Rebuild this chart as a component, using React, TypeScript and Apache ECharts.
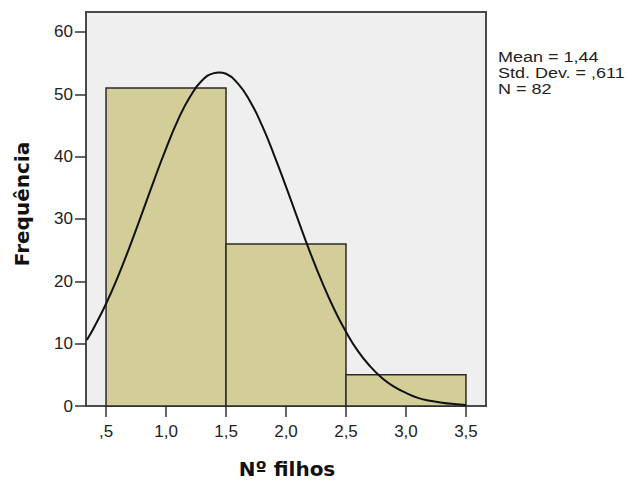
import React, { useEffect, useRef } from "react";
import * as echarts from "echarts";

const binStarts = [0.5, 1.5, 2.5];
const binEnds = [1.5, 2.5, 3.5];
const binCounts = [51, 26, 5];

const curveX = [0.34, 0.4, 0.5, 0.6, 0.7, 0.8, 0.9, 1.0, 1.1, 1.2, 1.3, 1.4, 1.44, 1.5, 1.6, 1.7, 1.8, 1.9, 2.0, 2.1, 2.2, 2.3, 2.4, 2.5, 2.6, 2.7, 2.8, 2.9, 3.0, 3.1, 3.2, 3.3, 3.4, 3.5];
const curveY = [10.6, 12.6, 16.4, 20.8, 25.7, 30.9, 36.2, 41.3, 45.9, 49.6, 52.2, 53.4, 53.5, 53.3, 51.7, 48.9, 45.0, 40.3, 35.2, 29.9, 24.7, 19.9, 15.6, 11.9, 8.8, 6.4, 4.5, 3.1, 2.1, 1.3, 0.85, 0.52, 0.31, 0.18];

const xTicks = [0.5, 1.0, 1.5, 2.0, 2.5, 3.0, 3.5];
const yTicks = [0, 10, 20, 30, 40, 50, 60];

const statsLines = ["Mean = 1,44", "Std. Dev. = ,611", "N = 82"];
const xTitle = "Nº filhos";
const yTitle = "Frequência";

export default function App() {
  const ref = useRef<HTMLDivElement>(null);
  useEffect(() => {
    document.body.style.margin = "0";
    const chart = echarts.init(ref.current!, null, { renderer: "svg" });
    const fmtX = (v: number) => {
      let s = v.toFixed(1).replace(".", ",");
      if (s.startsWith("0,")) s = s.slice(1);
      return s;
    };
    const bins = binStarts.map((s, i) => [s, binEnds[i], binCounts[i]]);
    const curve = curveX.map((x, i) => [x, curveY[i]]);
    chart.setOption({
      animation: false,
      grid: {
        left: 86,
        top: 12,
        right: 146,
        bottom: 77,
        show: true,
        backgroundColor: "#efefef",
        borderColor: "#4a4a4a",
        borderWidth: 2,
      },
      xAxis: {
        type: "value",
        min: 0.333,
        max: 3.667,
        axisLine: { show: false },
        splitLine: { show: false },
        axisTick: {
          show: true,
          customValues: xTicks,
          length: 11,
          lineStyle: { color: "#333", width: 1.5 },
        },
        axisLabel: {
          customValues: xTicks,
          formatter: fmtX,
          margin: 17,
          color: "#222",
          fontFamily: "Liberation Sans, Arial, sans-serif",
          fontSize: 17,
        },
      },
      yAxis: {
        type: "value",
        min: 0,
        max: 63.2,
        axisLine: { show: false },
        splitLine: { show: false },
        axisTick: {
          show: true,
          customValues: yTicks,
          length: 11,
          lineStyle: { color: "#333", width: 1.5 },
        },
        axisLabel: {
          customValues: yTicks,
          margin: 13,
          color: "#222",
          fontFamily: "Liberation Sans, Arial, sans-serif",
          fontSize: 17,
        },
      },
      graphic: [
        {
          type: "text",
          x: 22,
          y: 204,
          rotation: Math.PI / 2,
          style: {
            text: yTitle,
            align: "center",
            verticalAlign: "middle",
            font: "bold 20px 'DejaVu Sans'",
            fill: "#111",
          },
        },
        {
          type: "text",
          x: 287,
          y: 469,
          style: {
            text: xTitle,
            align: "center",
            verticalAlign: "middle",
            font: "bold 20px 'DejaVu Sans'",
            fill: "#111",
          },
        },
        ...statsLines.map((t, i) => ({
          type: "text",
          x: 498,
          y: 57.5 + i * 16,
          scaleX: 1.2,
          style: {
            text: t,
            align: "left",
            verticalAlign: "middle",
            font: "15px 'Liberation Sans'",
            fill: "#222",
          },
        })),
      ],
      series: [
        {
          type: "custom",
          data: bins,
          encode: { x: [0, 1], y: 2 },
          renderItem: (params: any, api: any) => {
            const p0 = api.coord([api.value(0), api.value(2)]);
            const p1 = api.coord([api.value(1), 0]);
            return {
              type: "rect",
              shape: { x: p0[0], y: p0[1], width: p1[0] - p0[0], height: p1[1] - p0[1] },
              style: { fill: "#d3ce98", stroke: "#2a2a2a", lineWidth: 1.5 },
            };
          },
          z: 2,
        },
        {
          type: "line",
          data: curve,
          smooth: true,
          showSymbol: false,
          lineStyle: { color: "#111", width: 2 },
          z: 3,
        },
      ],
    });
    return () => chart.dispose();
  }, []);
  return <div ref={ref} style={{ width: 632, height: 483 }} />;
}
